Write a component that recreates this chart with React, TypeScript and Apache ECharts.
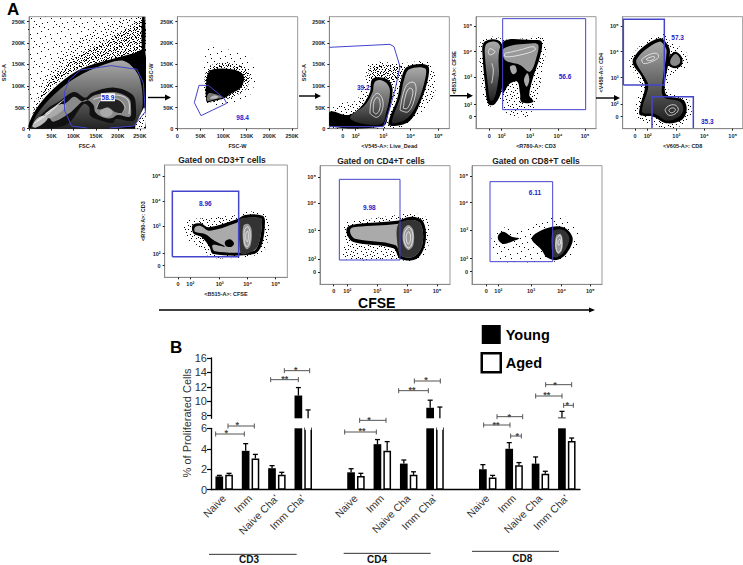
import React, { useEffect, useRef } from "react";
import * as echarts from "echarts";

type Pt = [number, number];
type Tick = [number, string];
type Layer = [string, Pt[]];
type Note = [string, number, number, boolean?];

// ---------- Panel B data ----------
const categories = ["Naive", "Imm", "Naive Cha'", "Imm Cha'", "", "Naive", "Imm", "Naive Cha", "Imm Cha'", "", "Naive", "Imm", "Naive Cha", "Imm Cha'"];
const young = [1.3, 3.8, 2.1, 10.8, null, 1.7, 4.45, 2.55, 9.1, null, 2.0, 4.0, 2.55, 7.75];
const youngErr = [1.4, 4.5, 2.35, 11.9, null, 2.05, 4.9, 2.9, 10.15, null, 2.45, 4.6, 3.2, 8.6];
const aged = [1.45, 3.05, 1.45, 7.4, null, 1.35, 3.8, 1.45, 7.4, null, 1.2, 2.4, 1.55, 4.75];
const agedErr = [1.6, 3.45, 1.7, 8.8, null, 1.6, 4.7, 1.75, 9.2, null, 1.4, 2.65, 1.8, 5.05];
const upperTicks = [8, 10, 12, 14, 16];
const brackets: [number, number, number, string, number, number][] = [
  [167, 253, 342, "*", 199, 335], [204, 283, 318, "*", 232, 311], [332, 415, 179, "**", 374, 175], [373, 449, 152, "*", 407, 148],
  [554, 649, 336, "**", 606, 330], [599, 678, 301, "*", 627, 298], [716, 805, 212, "**", 756, 208], [763, 841, 183, "*", 798, 178],
  [971, 1050, 315, "**", 1008, 312], [1011, 1088, 290, "*", 1048, 287], [1052, 1084, 348, "*", 1072, 344], [1127, 1206, 228, "**", 1160, 223],
  [1157, 1235, 194, "*", 1185, 191], [1211, 1240, 256, "*", 1222, 252],
];
const groups: [string, number, number, number, number, number][] = [
  ["CD3", 147, 410, 703, 267, 718], ["CD4", 551, 812, 700, 651, 718], ["CD8", 936, 1197, 694, 1087, 714],
];

// ---------- Panel A tick tables (instrument channel, label) ----------
const linXTicksA: Tick[] = [[75, "0"], [145, "50K"], [213, "100K"], [283, "150K"], [351, "200K"], [419, "250K"]];
const linYTicks: Tick[] = [[386, "0"], [323, "50K"], [258, "100K"], [193, "150K"], [129, "200K"], [65, "250K"]];
const linXTicksB: Tick[] = [[532, "0"], [602, "50K"], [670, "100K"], [740, "150K"], [808, "200K"], [876, "250K"]];
const p3X: Tick[] = [[68, "0"], [107, "10²"], [190, "10³"], [272, "10⁴"], [355, "10⁵"]];
const p4X: Tick[] = [[508, "0"], [545, "10²"], [630, "10³"], [714, "10⁴"], [795, "10⁵"]];
const p4Y: Tick[] = [[350, "0"], [314, "10²"], [232, "10³"], [155, "10⁴"], [79, "10⁵"]];
const p5X: Tick[] = [[945, "0"], [983, "10²"], [1069, "10³"], [1153, "10⁴"], [1238, "10⁵"]];
const p5Y: Tick[] = [[350, "0"], [313, "10²"], [233, "10³"], [155, "10⁴"], [79, "10⁵"]];
const p6X: Tick[] = [[144, "0"], [181, "10²"], [269, "10³"], [353, "10⁴"], [437, "10⁵"]];
const p6Y: Tick[] = [[347, "0"], [311, "10²"], [229, "10³"], [153, "10⁴"], [78, "10⁵"]];
const p7X: Tick[] = [[611, "0"], [652, "10²"], [742, "10³"], [833, "10⁴"], [921, "10⁵"]];
const p7Y: Tick[] = [[366, "0"], [328, "10²"], [242, "10³"], [160, "10⁴"], [81, "10⁵"]];
const p8X: Tick[] = [[1069, "0"], [1105, "10²"], [1203, "10³"], [1295, "10⁴"], [1381, "10⁵"]];
const p8Y: Tick[] = [[365, "0"], [326, "10²"], [241, "10³"], [158, "10⁴"], [79, "10⁵"]];

// ---------- Panel A density regions, contours and gates, in channel units ----------
const p1Layers: Layer[] = [
  ["s1", [[77, 340], [77, 52], [434, 52], [434, 150], [330, 175], [230, 200], [130, 270]]],
  ["s2", [[95, 310], [150, 190], [270, 95], [434, 52], [434, 160], [330, 180], [220, 210], [130, 280]]],
  ["s3", [[85, 345], [140, 240], [230, 165], [340, 110], [434, 60], [434, 160], [330, 180], [220, 210], [130, 280]]],
  ["#000", [[77, 365], [110, 310], [170, 250], [240, 205], [330, 178], [400, 160], [434, 150], [434, 386], [77, 386]]],
  ["#000", [[426, 52], [434, 52], [434, 160], [426, 160]]],
  ["lin", [[82, 380], [105, 335], [175, 265], [240, 222], [330, 187], [370, 183], [400, 205], [420, 240], [428, 310], [420, 345], [405, 378], [85, 386]]],
  ["#111", [[175, 300], [215, 276], [250, 293], [270, 278], [340, 263], [397, 285], [407, 325], [400, 362], [345, 357], [335, 369], [300, 362], [265, 347], [262, 322], [245, 312], [195, 372], [125, 386], [88, 382], [128, 330]]],
  ["#8a8a8a", [[195, 305], [215, 290], [245, 305], [280, 285], [340, 277], [385, 295], [392, 330], [388, 350], [350, 345], [330, 355], [300, 350], [280, 335], [275, 315], [250, 300], [200, 340], [150, 365], [140, 345]]],
  ["#222", [[285, 325], [300, 300], [350, 298], [372, 320], [365, 338], [340, 335], [320, 322], [300, 328]]],
  ["#aaa", [[295, 337], [305, 326], [325, 326], [335, 337], [325, 349], [305, 349]]],
  ["#bbb", [[85, 378], [105, 352], [135, 347], [125, 366], [95, 383]]],
  ["#aaa", [[125, 342], [175, 312], [190, 320], [140, 355]]],
  ["#fff", [[405, 386], [420, 345], [434, 322], [434, 386]]],
  ["s2", [[405, 386], [420, 345], [434, 322], [434, 386]]],
];
const p1Contours: Pt[][] = [
  [[185, 298], [140, 332], [100, 362]],
  [[275, 298], [340, 285], [382, 300], [385, 342]],
  [[285, 325], [300, 300], [350, 298], [372, 320], [365, 338]],
  [[90, 370], [130, 345], [175, 305]],
];
const p1Gate: Pt[][] = [
  [[255, 384], [207, 378], [185, 330], [185, 275], [200, 240], [235, 210], [330, 197], [410, 208], [430, 250], [436, 335], [400, 378], [325, 384]],
];
const p1Notes: Note[] = [["58.9", 320, 292, true]];

const p2Layers: Layer[] = [
  ["s1", [[622, 150], [690, 150], [765, 190], [750, 285], [690, 310], [620, 305]]],
  ["s3", [[622, 205], [690, 190], [745, 215], [740, 265], [700, 290], [640, 305], [620, 305]]],
  ["#000", [[622, 225], [640, 208], [695, 208], [730, 225], [725, 260], [695, 280], [672, 295], [640, 303], [620, 305]]],
  ["#777", [[622, 302], [626, 280], [645, 282], [668, 292], [645, 298]]],
  ["#bbb", [[630, 295], [640, 287], [655, 290], [645, 296]]],
];
const p2Gate: Pt[][] = [[[597, 256], [625, 256], [672, 295], [680, 310], [603, 347], [583, 308], [597, 256]]];
const p2Notes: Note[] = [["98.4", 728, 352]];

const p3Layers: Layer[] = [
  ["s2", [[30, 335], [60, 310], [110, 300], [135, 235], [150, 190], [240, 190], [330, 190], [345, 280], [290, 350], [230, 385], [30, 385]]],
  ["s3", [[148, 235], [155, 200], [215, 195], [250, 200], [240, 235], [200, 250]]],
  ["#000", [[30, 335], [85, 345], [125, 318], [150, 275], [155, 240], [172, 232], [205, 240], [218, 270], [205, 340], [190, 378], [30, 378]]],
  ["lin", [[90, 352], [135, 315], [158, 275], [163, 248], [178, 240], [200, 250], [210, 275], [198, 340], [185, 372], [120, 370]]],
  ["#000", [[205, 372], [232, 295], [245, 232], [262, 200], [322, 196], [325, 232], [300, 310], [270, 362], [225, 378]]],
  ["lin", [[215, 365], [240, 295], [252, 240], [268, 208], [315, 205], [316, 235], [292, 310], [262, 355], [225, 370]]],
];
const p3Contours: Pt[][] = [
  [[150, 340], [155, 300], [172, 280], [188, 300], [185, 335], [170, 352], [150, 340]],
  [[160, 335], [162, 305], [172, 292], [180, 305], [178, 330], [168, 342], [160, 335]],
  [[240, 330], [250, 280], [265, 250], [285, 250], [285, 290], [265, 335], [240, 330]],
  [[250, 325], [257, 285], [268, 265], [278, 270], [275, 295], [262, 325], [250, 325]],
];
const p3Gate: Pt[][] = [[[28, 142], [210, 133], [222, 140], [240, 200], [225, 270], [205, 340], [190, 380], [28, 380]]];
const p3Notes: Note[] = [["39.2", 130, 262]];

const p4Layers: Layer[] = [
  ["s2", [[480, 130], [510, 110], [570, 120], [660, 110], [680, 130], [670, 200], [650, 300], [620, 350], [560, 340], [540, 300], [520, 320], [495, 310], [480, 200]]],
  ["#000", [[490, 130], [515, 118], [540, 125], [552, 160], [548, 200], [545, 270], [525, 312], [505, 312], [495, 250], [488, 170]]],
  ["lin", [[497, 135], [515, 125], [535, 130], [545, 160], [540, 200], [530, 270], [520, 300], [510, 300], [503, 250], [495, 170]]],
  ["#000", [[545, 130], [640, 120], [665, 125], [660, 170], [640, 230], [628, 285], [640, 305], [605, 307], [600, 280], [592, 245], [568, 252], [548, 280]]],
  ["#999", [[552, 145], [640, 130], [655, 135], [650, 170], [630, 215], [600, 195], [555, 180]]],
  ["#aaa", [[570, 200], [585, 197], [590, 215], [578, 222]]],
  ["#aaa", [[612, 240], [622, 220], [628, 240], [620, 260]]],
];
const p4Contours: Pt[][] = [
  [[510, 145], [525, 155], [510, 165], [505, 155], [510, 145]],
  [[515, 190], [520, 210], [515, 250]],
  [[555, 160], [600, 150], [640, 140], [645, 150], [600, 165], [555, 170], [555, 160]],
];
const p4Gate: Pt[][] = [[[548, 329], [548, 56], [797, 56], [797, 329], [548, 329]]];
const p4Notes: Note[] = [["56.6", 735, 228]];

const p5Layers: Layer[] = [
  ["s2", [[930, 175], [970, 130], [1030, 100], [1055, 130], [1095, 150], [1100, 200], [1050, 230], [1050, 280], [1100, 290], [1115, 340], [1090, 375], [1030, 385], [950, 355], [945, 320], [960, 250], [930, 200]]],
  ["#000", [[940, 175], [970, 140], [1020, 115], [1040, 130], [1050, 155], [1035, 250], [1040, 285], [1090, 300], [1100, 330], [1085, 360], [1040, 370], [1000, 350], [960, 345], [960, 320], [975, 260], [965, 230], [940, 195]]],
  ["lin", [[950, 178], [975, 150], [1018, 125], [1032, 135], [1040, 155], [1028, 240], [1030, 290], [1080, 305], [1090, 330], [1075, 352], [1040, 362], [1005, 342], [968, 338], [968, 318], [985, 258], [972, 228], [950, 192]]],
  ["#000", [[1045, 175], [1065, 155], [1085, 170], [1085, 195], [1065, 205], [1045, 195]]],
  ["#888", [[1052, 178], [1066, 162], [1079, 173], [1079, 190], [1065, 198], [1052, 192]]],
];
const p5Contours: Pt[][] = [
  [[965, 178], [985, 165], [1010, 160], [1015, 172], [995, 185], [970, 190], [965, 178]],
  [[978, 178], [990, 172], [1003, 170], [1003, 176], [988, 182], [978, 178]],
  [[1035, 330], [1045, 318], [1065, 315], [1075, 328], [1065, 342], [1045, 345], [1035, 330]],
  [[1046, 330], [1055, 324], [1065, 326], [1064, 334], [1052, 338], [1046, 330]],
];
const p5Gates: Pt[][] = [
  [[910, 255], [910, 58], [1033, 58], [1033, 255], [910, 255]],
  [[996, 384], [996, 290], [1120, 290], [1120, 384]],
];
const p5Notes: Note[] = [["57.3", 1073, 113], ["35.3", 1162, 365]];

const p6Layers: Layer[] = [
  ["s2", [[165, 215], [215, 205], [320, 195], [350, 185], [410, 195], [410, 290], [380, 315], [300, 325], [240, 320], [200, 285], [170, 265]]],
  ["#000", [[188, 225], [212, 220], [236, 232], [320, 208], [345, 195], [398, 197], [405, 215], [395, 285], [372, 312], [250, 312], [238, 290], [215, 262], [190, 250]]],
  ["#aaa", [[195, 232], [212, 228], [238, 242], [320, 218], [345, 205], [392, 205], [396, 220], [386, 282], [368, 304], [255, 304], [248, 285], [285, 290], [250, 270], [225, 252], [195, 245]]],
  ["#000", [[285, 275], [300, 268], [312, 280], [305, 290], [288, 288]]],
  ["#333", [[328, 210], [345, 203], [392, 205], [396, 220], [386, 282], [368, 304], [335, 312], [328, 280]]],
  ["#999", [[340, 228], [355, 222], [365, 240], [362, 285], [350, 298], [340, 280]]],
];
const p6Contours: Pt[][] = [
  [[343, 240], [353, 230], [360, 245], [358, 280], [350, 290], [343, 275], [343, 240]],
  [[348, 250], [353, 243], [355, 255], [353, 275], [348, 270], [348, 250]],
];
const p6Gate: Pt[][] = [[[127, 320], [127, 124], [326, 124], [326, 320], [127, 320]]];
const p6Notes: Note[] = [["8.96", 226, 161]];

const p7Layers: Layer[] = [
  ["s2", [[640, 222], [700, 210], [800, 195], [850, 190], [890, 205], [895, 290], [860, 330], [780, 328], [640, 325], [645, 270]]],
  ["#000", [[652, 232], [680, 222], [800, 212], [845, 200], [880, 215], [886, 280], [860, 326], [810, 326], [790, 295], [670, 276], [652, 256]]],
  ["#aaa", [[662, 236], [682, 230], [800, 222], [845, 210], [872, 222], [878, 278], [855, 318], [815, 318], [795, 285], [675, 266], [662, 252]]],
  ["#333", [[805, 222], [845, 210], [872, 222], [878, 278], [855, 318], [815, 318], [803, 290]]],
  ["#999", [[820, 240], [835, 225], [850, 240], [850, 285], [835, 300], [820, 280]]],
];
const p7Contours: Pt[][] = [
  [[823, 250], [835, 232], [847, 245], [846, 280], [835, 294], [823, 275], [823, 250]],
  [[829, 255], [836, 245], [841, 255], [840, 275], [834, 282], [829, 270], [829, 255]],
];
const p7Gate: Pt[][] = [[[628, 330], [628, 88], [810, 88], [810, 330], [628, 330]]];
const p7Notes: Note[] = [["9.98", 718, 172]];

const p8Layers: Layer[] = [
  ["s1", [[1095, 235], [1180, 235], [1290, 195], [1345, 250], [1320, 325], [1240, 335], [1100, 330], [1085, 280]]],
  ["#000", [[1105, 255], [1120, 245], [1145, 260], [1168, 265], [1145, 275], [1120, 282], [1105, 270]]],
  ["#000", [[1205, 265], [1250, 235], [1300, 232], [1328, 265], [1310, 310], [1280, 330], [1250, 322], [1235, 300]]],
  ["#333", [[1268, 245], [1300, 240], [1318, 265], [1302, 305], [1280, 322], [1268, 318]]],
  ["#999", [[1278, 258], [1292, 252], [1298, 270], [1296, 300], [1285, 312], [1276, 295]]],
];
const p8Contours: Pt[][] = [
  [[1280, 265], [1290, 256], [1295, 272], [1293, 298], [1284, 308], [1278, 292], [1280, 265]],
  [[1285, 272], [1290, 268], [1291, 282], [1284, 284], [1285, 272]],
];
const p8Gate: Pt[][] = [[[1080, 335], [1080, 95], [1268, 95], [1268, 335], [1080, 335]]];
const p8Notes: Note[] = [["6.11", 1215, 127]];

// Stipple tile for the outlying events
const stippleDots: Pt[] = [
  [2, 3], [14, 1], [8, 9], [17, 13], [5, 16], [11, 18], [1, 11], [19, 6], [13, 7], [7, 2],
  [4, 7], [16, 4], [10, 14], [0, 18], [18, 17], [6, 12], [12, 4], [3, 14], [15, 10], [9, 0],
  [1, 6], [11, 11], [19, 1], [6, 19], [14, 15], [8, 5], [17, 8], [3, 0], [12, 16], [5, 9],
  [0, 2], [10, 6], [16, 18], [7, 15], [13, 12], [2, 18], [18, 11], [9, 17], [15, 2], [4, 11],
  [11, 2], [6, 5], [19, 15], [1, 15], [14, 9], [8, 13], [16, 7], [3, 5], [12, 19], [10, 10],
  [5, 0], [17, 3], [7, 18], [2, 9], [13, 14], [18, 19], [0, 13], [9, 3], [15, 17], [4, 17],
];

const FONT = "Liberation Sans";
const BLUE = "#4444cc";

function stipple(n: number, mirrored: boolean) {
  const c = document.createElement("canvas");
  c.width = 20;
  c.height = 20;
  const g = c.getContext("2d")!;
  g.fillStyle = "#000";
  stippleDots.slice(0, n).forEach(([x, y]) => {
    g.fillRect(x, y, 1, 1);
    if (mirrored) g.fillRect(19 - y, x, 1, 1);
  });
  return { image: c, repeat: "repeat" };
}

const panels = [
  { ox: 0, oy: 0, x: [75, 436], y: [50, 386], xt: linXTicksA, yt: linYTicks, xn: "FSC-A", yn: "SSC-A", xg: 14, yg: 22, layers: p1Layers, cont: p1Contours, gates: p1Gate, notes: p1Notes, gw: 1 },
  { ox: 0, oy: 0, x: [532, 893], y: [50, 386], xt: linXTicksB, yt: linYTicks, xn: "FSC-W", yn: "SSC-W", xg: 14, yg: 23, layers: p2Layers, cont: [], gates: p2Gate, notes: p2Notes, gw: 1 },
  { ox: 320, oy: 0, x: [28, 388], y: [50, 386], xt: p3X, yt: linYTicks, xn: "<V545-A>: Live_Dead", yn: "SSC-A", xg: 14, yg: 22, layers: p3Layers, cont: p3Contours, gates: p3Gate, notes: p3Notes, gw: 1 },
  { ox: 320, oy: 0, x: [468, 828], y: [50, 386], xt: p4X, yt: p4Y, xn: "<R780-A>: CD3", yn: "<B515-A>: CFSE", xg: 14, yg: 19, layers: p4Layers, cont: p4Contours, gates: p4Gate, notes: p4Notes, gw: 1 },
  { ox: 320, oy: 0, x: [908, 1268], y: [50, 386], xt: p5X, yt: p5Y, xn: "<V605-A>: CD8", yn: "<V450-A>: CD4", xg: 14, yg: 19, layers: p5Layers, cont: p5Contours, gates: p5Gates, notes: p5Notes, gw: 1.5 },
  { ox: 130, oy: 150, x: [104, 472], y: [45, 382], xt: p6X, yt: p6Y, xn: "<B515-A>: CFSE", yn: "<R780-A>: CD3", xg: 14, yg: 19, layers: p6Layers, cont: p6Contours, gates: p6Gate, notes: p6Notes, gw: 1.5 },
  { ox: 130, oy: 150, x: [570, 960], y: [47, 403], xt: p7X, yt: p7Y, xn: "", yn: "", xg: 14, yg: 19, layers: p7Layers, cont: p7Contours, gates: p7Gate, notes: p7Notes, gw: 1 },
  { ox: 130, oy: 150, x: [1026, 1416], y: [47, 403], xt: p8X, yt: p8Y, xn: "", yn: "", xg: 14, yg: 19, layers: p8Layers, cont: p8Contours, gates: p8Gate, notes: p8Notes, gw: 1 },
];

const titles: [string, number, number][] = [
  ["Gated on CD3+T cells", 222, 160],
  ["Gated on CD4+T cells", 381, 161],
  ["Gated on CD8+T cells", 536, 161],
];

export default function App() {
  const ref = useRef<HTMLDivElement>(null);
  useEffect(() => {
    document.body.style.margin = "0";
    const chart = echarts.init(ref.current!, undefined, { renderer: "svg" });
    const fills: Record<string, any> = {
      s1: stipple(14, false),
      s2: stipple(36, false),
      s3: stipple(60, true),
      lin: new echarts.graphic.LinearGradient(0, 0, 0, 1, [
        { offset: 0, color: "#aaaaaa" },
        { offset: 0.5, color: "#666666" },
        { offset: 1, color: "#222222" },
      ]),
    };

    const grid: any[] = [];
    const xAxis: any[] = [];
    const yAxis: any[] = [];
    const series: any[] = [];

    panels.forEach((p, i) => {
      grid.push({
        left: p.ox + p.x[0] / 3,
        top: p.oy + p.y[0] / 3,
        width: (p.x[1] - p.x[0]) / 3,
        height: (p.y[1] - p.y[0]) / 3,
        show: true,
        borderColor: "#999",
        borderWidth: 1,
        backgroundColor: "#fff",
      });
      const lookup = (ts: Tick[]) => (v: number) => (ts.find((t) => t[0] === v) || [0, ""])[1] as string;
      const common = { gridIndex: i, type: "value", nameLocation: "middle", splitLine: { show: false }, axisLine: { show: true, onZero: false, lineStyle: { color: "#888", width: 1 } } };
      const nameStyle = { fontFamily: FONT, fontSize: 5.5, fontWeight: "bold", color: "#222" };
      xAxis.push({
        ...common,
        min: p.x[0],
        max: p.x[1],
        name: p.xn,
        nameGap: p.xg,
        nameTextStyle: nameStyle,
        axisTick: { show: true, length: 2, customValues: p.xt.map((t) => t[0]), lineStyle: { color: "#222", width: 1 } },
        axisLabel: { show: true, customValues: p.xt.map((t) => t[0]), formatter: lookup(p.xt), fontFamily: FONT, fontSize: 5.5, fontWeight: "bold", color: "#222", margin: 4 },
      });
      yAxis.push({
        ...common,
        inverse: true,
        min: p.y[0],
        max: p.y[1],
        position: "left",
        name: p.yn,
        nameGap: p.yg,
        nameRotate: 90,
        nameTextStyle: nameStyle,
        axisTick: { show: true, length: 2, customValues: p.yt.map((t) => t[0]), lineStyle: { color: "#222", width: 1 } },
        axisLabel: { show: true, customValues: p.yt.map((t) => t[0]), formatter: lookup(p.yt), fontFamily: FONT, fontSize: 5.5, fontWeight: "bold", color: "#222", margin: 4 },
      });
      series.push({
        type: "custom",
        xAxisIndex: i,
        yAxisIndex: i,
        clip: true,
        silent: true,
        data: [p.layers[0][1][0]],
        encode: { x: 0, y: 1 },
        renderItem: (_: any, api: any) => {
          const at = (pts: Pt[]) => pts.map((q) => api.coord(q));
          const children: any[] = [];
          p.layers.forEach(([fill, pts]) =>
            children.push({ type: "polygon", shape: { points: at(pts), smooth: 0.35 }, style: { fill: fills[fill] || fill } })
          );
          (p.cont as Pt[][]).forEach((pts) =>
            children.push({ type: "polyline", shape: { points: at(pts), smooth: 0.4 }, style: { fill: "none", stroke: "#fff", lineWidth: 0.7 } })
          );
          p.gates.forEach((pts) =>
            children.push({ type: "polyline", shape: { points: at(pts) }, style: { fill: "none", stroke: BLUE, lineWidth: p.gw } })
          );
          p.notes.forEach(([text, nx, ny, boxed]) => {
            const [cx, cy] = api.coord([nx, ny]);
            if (boxed) children.push({ type: "rect", shape: { x: cx - 7, y: cy - 4, width: 14, height: 8 }, style: { fill: "#fff" } });
            children.push({
              type: "text",
              x: cx,
              y: cy,
              style: { text, fill: "#2222cc", font: `bold 6.5px "${FONT}"`, align: "center", verticalAlign: "middle" },
            });
          });
          return { type: "group", children };
        },
      });
    });

    // ---------- Panel B: broken axis made of two grids ----------
    const lo = panels.length;
    const up = lo + 1;
    const B = { left: 211, width: 369 };
    grid.push({ left: B.left, width: B.width, top: 428.3, height: 61.4 });
    grid.push({ left: B.left, width: B.width, top: 358, height: 60.3 });
    xAxis.push({
      gridIndex: lo,
      type: "category",
      data: categories,
      axisLine: { onZero: false, lineStyle: { color: "#000", width: 1.3 } },
      axisTick: { alignWithLabel: true, length: 4, lineStyle: { color: "#000", width: 1.2 } },
      axisLabel: { interval: 0, rotate: 45, fontFamily: FONT, fontSize: 10.5, color: "#333", margin: 7 },
    });
    xAxis.push({ gridIndex: up, type: "category", data: categories, show: false });
    const yLabel = { fontFamily: FONT, fontSize: 11, color: "#333", margin: 4 };
    yAxis.push({
      gridIndex: lo,
      type: "value",
      min: 0,
      max: 6,
      interval: 2,
      splitLine: { show: false },
      axisLine: { show: true, lineStyle: { color: "#000", width: 1.3 } },
      axisTick: { show: true, length: 4, lineStyle: { color: "#000", width: 1.2 } },
      axisLabel: yLabel,
    });
    yAxis.push({
      gridIndex: up,
      type: "value",
      min: 7.64,
      max: 16,
      splitLine: { show: false },
      axisLine: { show: true, lineStyle: { color: "#000", width: 1.3 } },
      axisTick: { show: true, length: 4, customValues: upperTicks, lineStyle: { color: "#000", width: 1.2 } },
      axisLabel: { ...yLabel, customValues: upperTicks },
    });

    const barBase = { type: "bar", barWidth: 7.7, barGap: "27%" };
    const cut = (vals: (number | null)[]) => vals.map((v) => (v != null && v > 7.64 ? v : null));
    const youngStyle = { color: "#000" };
    const agedStyle = { color: "#fff", borderColor: "#000", borderWidth: 1.5 };
    series.push({ ...barBase, name: "Young", xAxisIndex: lo, yAxisIndex: lo, data: young, itemStyle: youngStyle });
    series.push({ ...barBase, name: "Aged", xAxisIndex: lo, yAxisIndex: lo, data: aged, itemStyle: agedStyle });
    series.push({ ...barBase, name: "Young", xAxisIndex: up, yAxisIndex: up, data: cut(young), itemStyle: youngStyle });
    series.push({ ...barBase, name: "Aged", xAxisIndex: up, yAxisIndex: up, data: cut(aged), itemStyle: agedStyle });

    // The axis break leaves the tall aged bars open at the top
    series.push({
      type: "custom",
      name: "break",
      xAxisIndex: lo,
      yAxisIndex: lo,
      clip: false,
      silent: true,
      z: 5,
      data: aged.map((v, i) => [i, v]).filter((d) => d[1] != null && (d[1] as number) > 6),
      encode: { x: 0, y: 1 },
      renderItem: (_: any, api: any) => {
        const [cx, top] = api.coord([api.value(0), 6]);
        const x = cx + api.size([1, 0])[0] * 0.184;
        return { type: "rect", shape: { x: x - 3.2, y: top - 1.5, width: 6.4, height: 3 }, style: { fill: "#fff" } };
      },
    });

    const errSeries = (axis: number, vals: (number | null)[], errs: (number | null)[], side: number, lowEnd: number, highEnd: number) => ({
      type: "custom",
      name: side < 0 ? "Young SEM" : "Aged SEM",
      xAxisIndex: axis,
      yAxisIndex: axis,
      clip: false,
      silent: true,
      data: vals.map((v, i) => [i, v, errs[i]]).filter((d) => d[1] != null && (d[2] as number) > lowEnd && (d[2] as number) <= highEnd),
      encode: { x: 0, y: [1, 2] },
      renderItem: (_: any, api: any) => {
        const idx = api.value(0);
        const bottom = Math.max(api.value(1), lowEnd);
        const [cx] = api.coord([idx, 0]);
        const x = cx + side * api.size([1, 0])[0] * 0.184;
        const y0 = api.coord([idx, bottom])[1];
        const y1 = api.coord([idx, api.value(2)])[1];
        const st = { stroke: "#000", lineWidth: 1.3 };
        return {
          type: "group",
          children: [
            { type: "line", shape: { x1: x, y1: y0, x2: x, y2: y1 }, style: st },
            { type: "line", shape: { x1: x - 2.5, y1, x2: x + 2.5, y2: y1 }, style: st },
          ],
        };
      },
    });
    series.push(errSeries(lo, young, youngErr, -1, 0, 6));
    series.push(errSeries(lo, aged, agedErr, 1, 0, 6));
    series.push(errSeries(up, young, youngErr, -1, 7.64, 16));
    series.push(errSeries(up, aged, agedErr, 1, 7.64, 16));

    // ---------- Annotations ----------
    const zx = (v: number) => 160 + v / 3;
    const zy = (v: number) => 320 + v / 3;
    const graphic: any[] = [];
    const line = (x1: number, y1: number, x2: number, y2: number, stroke = "#000", lineWidth = 1) => ({ type: "line", shape: { x1, y1, x2, y2 }, style: { stroke, lineWidth }, silent: true });
    const label = (text: string, x: number, y: number, font: string, align = "left", fill = "#000", rotation = 0) => ({
      type: "text", x, y, rotation, silent: true, style: { text, x: 0, y: 0, font, align, verticalAlign: "middle", fill },
    });
    const arrow = (x1: number, x2: number, y: number, h = 3, l = 6, w = 1.4) => [
      line(x1, y, x2 - l + 1, y, "#000", w),
      { type: "polygon", silent: true, shape: { points: [[x2 - l, y - h], [x2, y], [x2 - l, y + h]] }, style: { fill: "#000" } },
    ];
    graphic.push(...arrow(148, 171, 97.5), ...arrow(299, 321, 96), ...arrow(450, 473, 95.7), ...arrow(596, 620, 98));
    graphic.push(...arrow(159, 595, 310, 2.5, 6, 1.3));
    graphic.push(label("A", 7, 9, `bold 17px "${FONT}"`));
    graphic.push(label("B", 170, 347, `bold 17px "${FONT}"`));
    graphic.push(label("CFSE", 376.7, 303, `bold 14px "${FONT}"`, "center"));
    titles.forEach(([t, x, y]) => graphic.push(label(t, x, y, `bold 8.5px "${FONT}"`, "center", "#222")));
    graphic.push(label("% of Proliferated Cells", 187, 423, `11px "${FONT}"`, "center", "#333", Math.PI / 2));
    brackets.forEach(([a, b, y, star, sx, sy]) => {
      graphic.push(line(zx(a), zy(y), zx(b), zy(y), "#555", 1));
      graphic.push(line(zx(a), zy(y) - 2.5, zx(a), zy(y) + 2.5, "#555", 1));
      graphic.push(line(zx(b), zy(y) - 2.5, zx(b), zy(y) + 2.5, "#555", 1));
      graphic.push(label(star, zx(sx), zy(sy) + 1, `bold 9px "${FONT}"`, "center", "#444"));
    });
    groups.forEach(([name, a, b, y, tx, ty]) => {
      graphic.push(line(zx(a), zy(y), zx(b), zy(y), "#333", 1));
      graphic.push(label(name, zx(tx), zy(ty), `bold 10px "${FONT}"`, "center", "#111"));
    });

    chart.setOption({
      animation: false,
      backgroundColor: "#fff",
      legend: {
        left: 480.5,
        top: 325,
        padding: 0,
        orient: "vertical",
        itemWidth: 19,
        itemHeight: 19,
        itemGap: 8,
        selectedMode: false,
        icon: "rect",
        textStyle: { fontFamily: FONT, fontSize: 14.5, fontWeight: "bold", color: "#000" },
        data: [
          { name: "Young", itemStyle: { color: "#000" } },
          { name: "Aged", itemStyle: { color: "#fff", borderColor: "#000", borderWidth: 2.5 } },
        ],
      },
      grid,
      xAxis,
      yAxis,
      series,
      graphic,
    });
    return () => chart.dispose();
  }, []);
  return <div ref={ref} style={{ width: 743, height: 565 }} />;
}
